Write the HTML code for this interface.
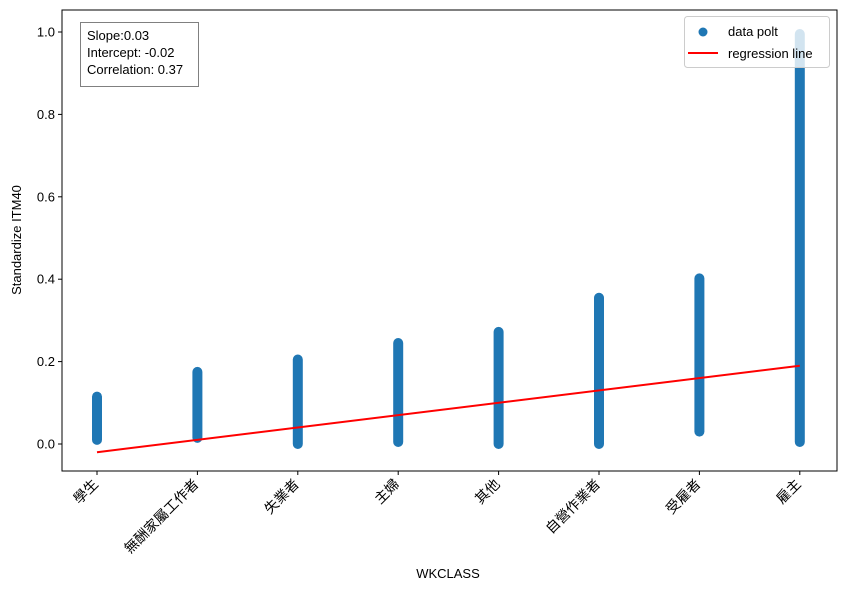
<!DOCTYPE html>
<html><head><meta charset="utf-8">
<style>
body{margin:0;background:#fff;}
svg text{font-family:"Liberation Sans","Noto Sans CJK TC",sans-serif;fill:#000;}
</style></head>
<body>
<svg id="chart" width="845" height="593" xmlns="http://www.w3.org/2000/svg">
<rect x="0" y="0" width="845" height="593" fill="#fff"/>
<g id="marks"></g>
<g id="axes"></g>
<rect x="62" y="10" width="775" height="461" fill="none" stroke="#000" stroke-width="1"/>
<g>
<rect x="80.5" y="22.5" width="118" height="64" fill="#fff" stroke="#808080"/>
<text x="87" y="40" font-size="13">Slope:0.03</text>
<text x="87" y="57" font-size="13">Intercept: -0.02</text>
<text x="87" y="74" font-size="13">Correlation: 0.37</text>
</g>
<g>
<rect x="684.5" y="16.5" width="145" height="51" rx="3" fill="#fff" fill-opacity="0.8" stroke="#ccc"/>
<circle cx="703" cy="32" r="4.5" fill="#1f77b4"/>
<text x="728" y="36" font-size="13">data polt</text>
<line x1="688" y1="53" x2="718" y2="53" stroke="red" stroke-width="2"/>
<text x="728" y="58" font-size="13">regression line</text>
</g>
<text x="448" y="578" font-size="13" text-anchor="middle">WKCLASS</text>
<text x="0" y="0" font-size="13" text-anchor="middle" transform="translate(21,240) rotate(-90)">Standardize ITM40</text>
</svg>
<script>
const categories=["學生","無酬家屬工作者","失業者","主婦","其他","自營作業者","受雇者","雇主"];
const minValues=[0.01,0.015,0.0,0.005,0.0,0.0,0.03,0.005];
const maxValues=[0.115,0.175,0.205,0.245,0.272,0.355,0.402,0.995];
const yTicks=[0.0,0.2,0.4,0.6,0.8,1.0];
const slope=0.03;
const intercept=-0.02;

const NS="http://www.w3.org/2000/svg";
function xScale(i){return 97+i*100.4;}
function yScale(v){return 444-v*412;}
function mk(tag,attrs,parent){const e=document.createElementNS(NS,tag);for(const k in attrs)e.setAttribute(k,attrs[k]);parent.appendChild(e);return e;}
const marks=document.getElementById('marks');
const axes=document.getElementById('axes');

categories.forEach((c,i)=>{
  const x=xScale(i),y1=yScale(maxValues[i]),y2=yScale(minValues[i]);
  const r=mk('rect',{x:x-5,y:y1-5,width:10,height:(y2-y1)+10,rx:5,fill:'#1f77b4'},marks);
  
  
  const t=mk('line',{x1:x,x2:x,y1:471,y2:475,stroke:'#000'},axes);
  
  
  const lb=mk('text',{'font-size':14,'text-anchor':'end',transform:`translate(${x+2},${485}) rotate(-45)`},axes);
  lb.textContent=c;
  
  
});
const n=categories.length-1;
const ln=mk('line',{x1:xScale(0),y1:yScale(intercept),x2:xScale(n),y2:yScale(intercept+slope*n),stroke:'red','stroke-width':2},marks);



yTicks.forEach(v=>{
  const y=yScale(v);
  const t=mk('line',{x1:58,x2:62,y1:y,y2:y,stroke:'#000'},axes);
  
  
  const lb=mk('text',{x:55,y:y+4.5,'font-size':13,'text-anchor':'end'},axes);
  lb.textContent=v.toFixed(1);
  
  
});
</script>
</body></html>
